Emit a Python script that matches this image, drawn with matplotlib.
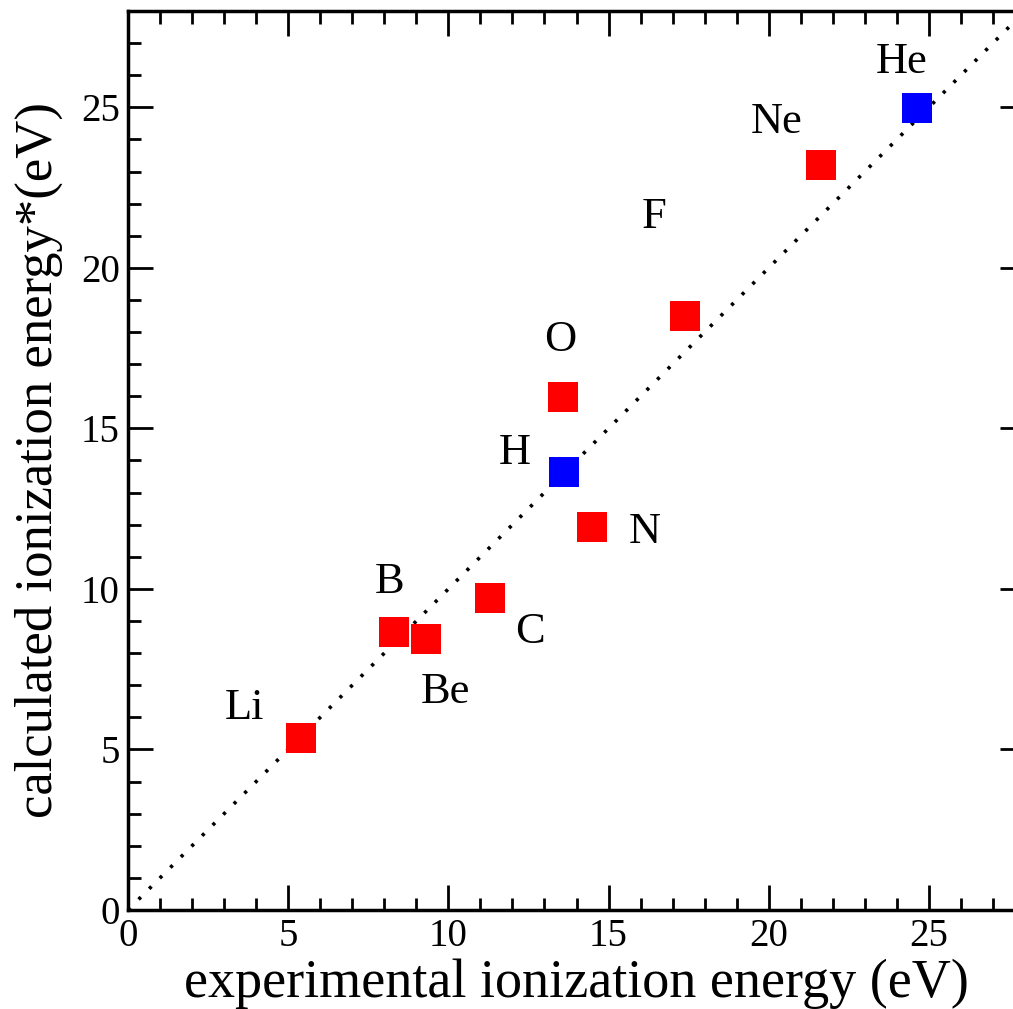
import matplotlib
matplotlib.use("Agg")
import matplotlib.pyplot as plt
from matplotlib.ticker import MultipleLocator

# Ionization energies (eV): experimental vs. calculated
elements = ["H", "He", "Li", "Be", "B", "C", "N", "O", "F", "Ne"]
experimental = [13.60, 24.62, 5.40, 9.31, 8.30, 11.29, 14.49, 13.59, 17.38, 21.62]
calculated = [13.63, 24.98, 5.36, 8.43, 8.66, 9.72, 11.92, 15.97, 18.50, 23.21]
colors = ["blue", "blue", "red", "red", "red", "red", "red", "red", "red", "red"]

# label anchor positions in data units
label_x = [12.08, 24.15, 3.65, 9.92, 8.18, 12.54, 16.13, 13.48, 16.41, 20.25]
label_y = [14.24, 26.42, 6.30, 6.79, 10.22, 8.66, 11.78, 17.76, 21.59, 24.55]

axis_limit = 28
diag = [0, axis_limit]

plt.rcParams["font.family"] = ["Liberation Serif", "DejaVu Serif"]

W, H = 1013, 1009
fig = plt.figure(figsize=(W / 100, H / 100), dpi=100)
ax = fig.add_axes([128 / W, (H - 910) / H, (1025 - 128) / W, (910 - 11) / H])

ax.plot(diag, diag, color="black", linewidth=2.6, linestyle=(0, (0.9, 3.25)),
        dash_capstyle="butt", zorder=2)

for x, y, c in zip(experimental, calculated, colors):
    ax.plot(x, y, marker="s", markersize=21, color=c, markeredgewidth=0,
            linestyle="none", zorder=3)

for name, lx, ly in zip(elements, label_x, label_y):
    ax.text(lx, ly, name, fontsize=32, ha="center", va="center", zorder=4)

ax.set_xlim(0, axis_limit)
ax.set_ylim(0, axis_limit)
ax.xaxis.set_major_locator(MultipleLocator(5))
ax.xaxis.set_minor_locator(MultipleLocator(1))
ax.yaxis.set_major_locator(MultipleLocator(5))
ax.yaxis.set_minor_locator(MultipleLocator(1))
ax.tick_params(which="both", direction="in", top=True, right=True,
               labelsize=28, width=2)
ax.tick_params(which="major", length=18, pad=6)
ax.tick_params(which="minor", length=9)
for s in ax.spines.values():
    s.set_linewidth(2.5)

ax.set_xlabel("experimental ionization energy (eV)", fontsize=39, labelpad=2)
ax.set_ylabel("calculated ionization energy*(eV)", fontsize=38)
ax.yaxis.set_label_coords(-0.073, 0.50)

fig.savefig("out.png", dpi=100)
